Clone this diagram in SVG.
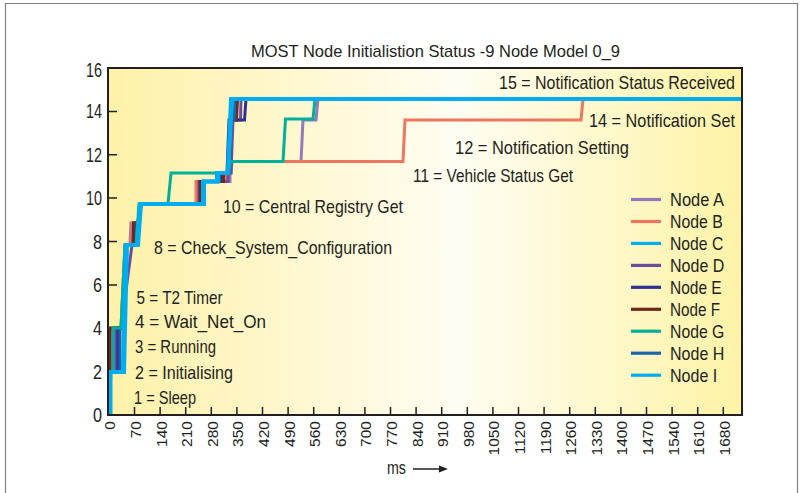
<svg xmlns="http://www.w3.org/2000/svg" width="803" height="493" viewBox="0 0 803 493">
<defs>
<linearGradient id="bg" x1="0" y1="0" x2="1" y2="0">
<stop offset="0" stop-color="#fef1a8"/>
<stop offset="0.55" stop-color="#fffdf2"/>
<stop offset="1" stop-color="#fef3a6"/>
</linearGradient>
<clipPath id="plot"><rect x="108" y="68" width="634" height="347"/></clipPath>
<style>
text{font-family:"Liberation Sans",Arial,sans-serif;fill:#231f20}
.ann{font-size:19px}
.ax{font-size:15.5px;text-anchor:end}
.yl{font-size:20px;text-anchor:end}
.n{fill:none;stroke-width:3;stroke-linejoin:miter}
.c{stroke-width:4}
.lg{fill:none;stroke-width:3.2}
</style>
</defs>
<rect width="803" height="493" fill="#ffffff"/>
<path d="M5.5,493 V3.5 H797.5 V493" fill="none" stroke="#808285" stroke-width="1.2"/>
<text x="251" y="57" font-size="17" textLength="369" lengthAdjust="spacingAndGlyphs">MOST Node Initialistion Status -9 Node Model 0_9</text>
<rect x="108" y="68" width="634" height="347" fill="url(#bg)"/>
<g id="ticks" stroke="#231f20" stroke-width="1.5" fill="none">
<path d="M108,371.6h9M108,328.25h9M108,284.9h9M108,241.5h9M108,198.1h9M108,154.75h9M108,111.4h9"/>
<path d="M134.5,415v-8M160.1,415v-8M185.7,415v-8M211.3,415v-8M236.9,415v-8M262.5,415v-8M288.1,415v-8M313.7,415v-8M339.3,415v-8M364.9,415v-8M390.5,415v-8M416.1,415v-8M441.7,415v-8M467.3,415v-8M492.9,415v-8M518.5,415v-8M544.1,415v-8M569.7,415v-8M595.3,415v-8M620.9,415v-8M646.5,415v-8M672.1,415v-8M697.7,415v-8M723.3,415v-8"/>
</g>
<g id="labels" class="ann">
<text x="499" y="89" textLength="236" lengthAdjust="spacingAndGlyphs">15 = Notification Status Received</text>
<text x="589" y="127" textLength="146" lengthAdjust="spacingAndGlyphs">14 = Notification Set</text>
<text x="455" y="154" textLength="174" lengthAdjust="spacingAndGlyphs">12 = Notification Setting</text>
<text x="413" y="182" textLength="160" lengthAdjust="spacingAndGlyphs">11 = Vehicle Status Get</text>
<text x="223" y="213" textLength="180" lengthAdjust="spacingAndGlyphs">10 = Central Registry Get</text>
<text x="154" y="253.5" textLength="238" lengthAdjust="spacingAndGlyphs">8 = Check_System_Configuration</text>
<text x="136.5" y="304" textLength="86" lengthAdjust="spacingAndGlyphs">5 = T2 Timer</text>
<text x="135" y="327.5" textLength="131" lengthAdjust="spacingAndGlyphs">4 = Wait_Net_On</text>
<text x="135" y="353" textLength="81" lengthAdjust="spacingAndGlyphs">3 = Running</text>
<text x="135" y="378.5" textLength="98" lengthAdjust="spacingAndGlyphs">2 = Initialising</text>
<text x="134" y="404" textLength="62" lengthAdjust="spacingAndGlyphs">1 = Sleep</text>
</g>
<g id="series" clip-path="url(#plot)">
<path id="nodeA" class="n" stroke="#9479bd" d="M108.5,415 L111,372 L114,372 L114,328 L121,328 L125,245 L130,245 L131,223 L138,223 L140,204 L198,204 L198,181.5 L230,181.5 L230,173 L231,173 L232,161.5 L301,161.5 L303,120 L316,120 L318,99 L742,99"/>
<path id="nodeB" class="n" stroke="#ee7661" d="M110,415 L110,372 L112,372 L112,328 L121,328 L125,245 L131.5,245 L132,223 L138,223 L140,204 L196,204 L196,181.5 L226.5,181.5 L226.5,173 L230,173 L231,161.5 L403,161.5 L405,120 L581,120 L583,99 L742,99"/>
<path id="nodeD" class="n" stroke="#6b4d9e" d="M110,415 L110,372 L116,372 L116,328 L121,328 L132,245 L135,245 L136,223 L139,223 L140,204 L199,204 L199,181.5 L228,181.5 L228,173 L231,173 L233,120 L240.5,120 L241,99 L742,99"/>
<path id="nodeE" class="n" stroke="#2e3192" d="M110,415 L110,372 L118,372 L118,328 L122,328 L126,245 L134,245 L134.5,223 L139,223 L141,204 L201,204 L201,181.5 L221,181.5 L221,173 L227,173 L229,120 L244.5,120 L246,99 L742,99"/>
<path id="nodeF" class="n" stroke="#6c2a1d" d="M110,415 L110,328 L122,328 L126,245 L133,245 L133.5,223 L139,223 L141,204 L200,204 L200,181.5 L223.5,181.5 L223.5,173 L229,173 L231,120 L236.5,120 L237.5,99 L742,99"/>
<path id="nodeH" class="n" stroke="#1a64ae" d="M110,415 L110,372 L120,372 L120,328 L122,328 L126,245 L136.5,245 L137,223 L139,223 L141,204 L203,204 L203,181.5 L219.5,181.5 L219.5,173 L229,173 L231,120 L234,120 L235,99 L742,99"/>
<path id="nodeG" class="n" stroke="#00b09b" stroke-width="3.4" d="M110,415 L110,372 L113,372 L113,328 L121,328 L125,245 L136,245 L139,204 L168,204 L171,173 L229,173 L230,161.5 L283,161.5 L285.5,119 L313,119 L315,99 L742,99"/>
<path id="nodeC" class="n c" stroke="#00aeef" d="M110,415 L110,372 L123,372 L126,245 L137,245 L140,204 L203,204 L203,181.5 L217,181.5 L217,173 L228,173 L231,99 L742,99"/>
<path id="nodeI" class="n c" stroke="#00aeef" d="M110.5,415 L110.5,372 L124,372 L127,245 L138,245 L141,204 L204,204 L204,181.5 L218,181.5 L218,173 L228,173 L232,99 L742,99"/>
</g>
<rect x="108" y="68" width="634" height="347" fill="none" stroke="#231f20" stroke-width="2"/>
<g id="yaxis" class="yl">
<text x="102" y="421.5" textLength="9" lengthAdjust="spacingAndGlyphs">0</text>
<text x="102" y="378.6" textLength="9" lengthAdjust="spacingAndGlyphs">2</text>
<text x="102" y="335.25" textLength="9" lengthAdjust="spacingAndGlyphs">4</text>
<text x="102" y="291.9" textLength="9" lengthAdjust="spacingAndGlyphs">6</text>
<text x="102" y="248.5" textLength="9" lengthAdjust="spacingAndGlyphs">8</text>
<text x="102" y="205.1" textLength="16" lengthAdjust="spacingAndGlyphs">10</text>
<text x="102" y="161.75" textLength="16" lengthAdjust="spacingAndGlyphs">12</text>
<text x="102" y="118.4" textLength="16" lengthAdjust="spacingAndGlyphs">14</text>
<text x="102" y="77" textLength="16" lengthAdjust="spacingAndGlyphs">16</text>
</g>
<g id="xaxis" class="ax">
<text transform="translate(115.4,421) rotate(-90)">0</text>
<text transform="translate(141,421) rotate(-90)">70</text>
<text transform="translate(166.6,421) rotate(-90)">140</text>
<text transform="translate(192.2,421) rotate(-90)">210</text>
<text transform="translate(217.8,421) rotate(-90)">280</text>
<text transform="translate(243.4,421) rotate(-90)">350</text>
<text transform="translate(269,421) rotate(-90)">420</text>
<text transform="translate(294.6,421) rotate(-90)">490</text>
<text transform="translate(320.2,421) rotate(-90)">560</text>
<text transform="translate(345.8,421) rotate(-90)">630</text>
<text transform="translate(371.4,421) rotate(-90)">700</text>
<text transform="translate(397,421) rotate(-90)">770</text>
<text transform="translate(422.6,421) rotate(-90)">840</text>
<text transform="translate(448.2,421) rotate(-90)">910</text>
<text transform="translate(473.8,421) rotate(-90)">980</text>
<text transform="translate(499.4,421) rotate(-90)">1050</text>
<text transform="translate(525,421) rotate(-90)">1120</text>
<text transform="translate(550.6,421) rotate(-90)">1190</text>
<text transform="translate(576.2,421) rotate(-90)">1260</text>
<text transform="translate(601.8,421) rotate(-90)">1330</text>
<text transform="translate(627.4,421) rotate(-90)">1400</text>
<text transform="translate(653,421) rotate(-90)">1470</text>
<text transform="translate(678.6,421) rotate(-90)">1540</text>
<text transform="translate(704.2,421) rotate(-90)">1610</text>
<text transform="translate(729.8,421) rotate(-90)">1680</text>
</g>
<g id="xtitle">
<text x="387" y="474" font-size="19" textLength="19" lengthAdjust="spacingAndGlyphs">ms</text>
<path d="M413,469 H441" stroke="#231f20" stroke-width="1.5" fill="none"/>
<path d="M448,469 L439,465.5 L439,472.5 Z" fill="#231f20"/>
</g>
<g id="legend">
<path class="lg" stroke="#9479bd" d="M631,199.5h30"/>
<path class="lg" stroke="#ee7661" d="M631,221.5h30"/>
<path class="lg" stroke="#00aeef" d="M631,243.4h30"/>
<path class="lg" stroke="#6b4d9e" d="M631,265.4h30"/>
<path class="lg" stroke="#2e3192" d="M631,287.3h30"/>
<path class="lg" stroke="#6c2a1d" d="M631,309.3h30"/>
<path class="lg" stroke="#00b09b" d="M631,331.2h30"/>
<path class="lg" stroke="#1a64ae" d="M631,353.2h30"/>
<path class="lg" stroke="#00aeef" d="M631,375.2h30"/>
<g class="ann">
<text x="670" y="206" textLength="54" lengthAdjust="spacingAndGlyphs">Node A</text>
<text x="670" y="228" textLength="52.7" lengthAdjust="spacingAndGlyphs">Node B</text>
<text x="670" y="249.9" textLength="53.3" lengthAdjust="spacingAndGlyphs">Node C</text>
<text x="670" y="271.9" textLength="54.3" lengthAdjust="spacingAndGlyphs">Node D</text>
<text x="670" y="293.8" textLength="51.7" lengthAdjust="spacingAndGlyphs">Node E</text>
<text x="670" y="315.8" textLength="50" lengthAdjust="spacingAndGlyphs">Node F</text>
<text x="670" y="337.7" textLength="54.3" lengthAdjust="spacingAndGlyphs">Node G</text>
<text x="670" y="359.7" textLength="54.3" lengthAdjust="spacingAndGlyphs">Node H</text>
<text x="670" y="381.7" textLength="47.3" lengthAdjust="spacingAndGlyphs">Node I</text>
</g>
</g>
</svg>
